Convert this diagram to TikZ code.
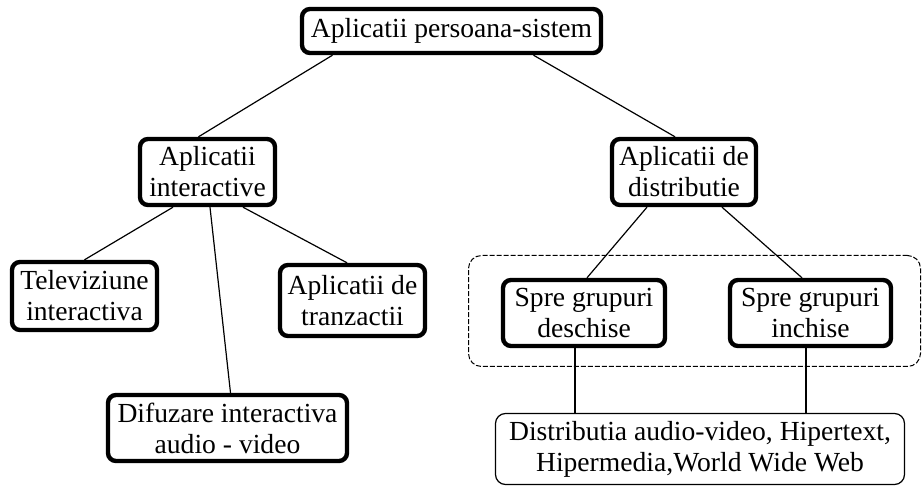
\documentclass[tikz,border=0pt]{standalone}
\usepackage{fontspec}
\setmainfont{Liberation Serif}
\usepackage{tikz}
\usetikzlibrary{calc, positioning}

\begin{document}
\begin{tikzpicture}[x=0.5pt, y=-0.5pt, line width=0.6pt,
    appbox/.style={draw, line width=2.2pt, rounded corners=4pt, align=center,
        inner sep=0pt, font=\fontsize{13.8}{15.5}\selectfont},
    thinbox/.style={draw, line width=0.6pt, rounded corners=5pt, align=center,
        inner sep=0pt, font=\fontsize{13.8}{15.5}\selectfont},
    grupbox/.style={draw, line width=0.5pt, rounded corners=6.5pt,
        dash pattern=on 2.5pt off 1pt}]
    \useasboundingbox (0,0) rectangle (922,486);

    % Chenarul punctat din jurul grupurilor
    \node[grupbox, minimum width=226pt, minimum height=55.5pt] (grup) at (694.5,311) {};

    % Nodurile arborelui
    \node[appbox, minimum width=149.5pt, minimum height=22pt] (root) at (451.5,31) {Aplicatii persoana-sistem};
    \node[appbox, minimum width=67.5pt, minimum height=33pt] (inter) at (207.5,172) {Aplicatii\\interactive};
    \node[appbox, minimum width=72pt, minimum height=33pt] (distr) at (684,172) {Aplicatii de\\distributie};
    \node[appbox, minimum width=72.5pt, minimum height=34pt] (tv) at (84.5,296) {Televiziune\\interactiva};
    \node[appbox, minimum width=72.5pt, minimum height=35.5pt] (tranz) at (352.5,300.5) {Aplicatii de\\tranzactii};
    \node[appbox, minimum width=119.5pt, minimum height=33pt] (difuz) at (227.5,428) {Difuzare interactiva\\audio - video};
    \node[appbox, minimum width=81pt, minimum height=33pt] (desch) at (584,313) {Spre grupuri\\deschise};
    \node[appbox, minimum width=80.5pt, minimum height=33pt] (inch) at (810.5,313) {Spre grupuri\\inchise};
    \node[thinbox, minimum width=204.5pt, minimum height=35.5pt] (web) at (700,449) {Distributia audio-video, Hipertext,\\Hipermedia,World Wide Web};

    % Legaturile
    \draw ($(root.south)+(-119,0)$) -- ($(inter.north)+(-9,0)$);
    \draw ($(root.south)+(82,0)$) -- ($(distr.north)+(-9,0)$);
    \draw ($(inter.south)+(-34.5,0)$) -- (tv.north);
    \draw ($(inter.south)+(2.5,0)$) -- ($(difuz.north)+(3,0)$);
    \draw ($(inter.south)+(35.5,0)$) -- ($(tranz.north)+(-5.5,0)$);
    \draw ($(distr.south)+(-37,0)$) -- ($(desch.north)+(3,0)$);
    \draw ($(distr.south)+(38,0)$) -- ($(inch.north)+(-8.5,0)$);
    \coordinate (d1) at ($(desch.south)+(-9,0)$);
    \coordinate (d2) at ($(inch.south)+(-4.5,0)$);
    \draw (d1) -- (d1 |- web.north);
    \draw (d2) -- (d2 |- web.north);
\end{tikzpicture}
\end{document}
